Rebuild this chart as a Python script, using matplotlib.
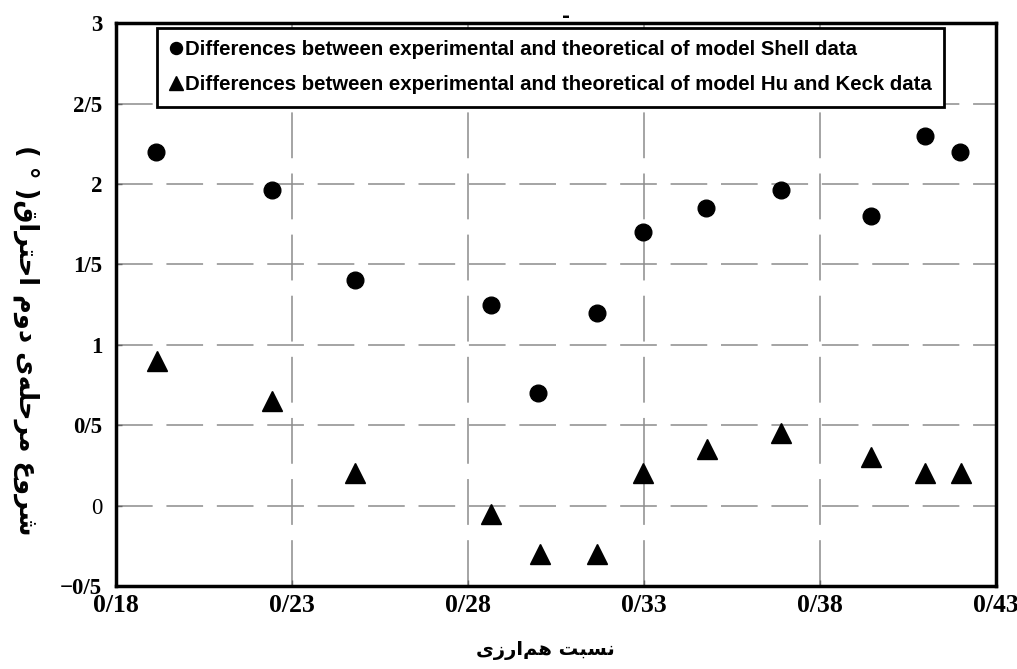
import matplotlib
matplotlib.use("Agg")
import matplotlib.pyplot as plt
from matplotlib import font_manager

# ---- data ----
shell_x = [0.1914, 0.2243, 0.2479, 0.2865, 0.2999, 0.3166, 0.3297, 0.3476, 0.3689, 0.3945, 0.4098, 0.4198]
shell_y = [2.20, 1.96, 1.40, 1.25, 0.70, 1.20, 1.70, 1.85, 1.96, 1.80, 2.30, 2.20]
hk_x = [0.1917, 0.2243, 0.2479, 0.2865, 0.3004, 0.3166, 0.3297, 0.3479, 0.3689, 0.3945, 0.4098, 0.4201]
hk_y = [0.90, 0.65, 0.20, -0.05, -0.30, -0.30, 0.20, 0.35, 0.45, 0.30, 0.20, 0.20]

x_ticks = [0.18, 0.23, 0.28, 0.33, 0.38, 0.43]
x_tick_labels = ["0/18", "0/23", "0/28", "0/33", "0/38", "0/43"]
y_ticks = [-0.5, 0, 0.5, 1, 1.5, 2, 2.5, 3]
y_tick_labels = ["\u22120/5", "0", "0/5", "1", "1/5", "2", "2/5", "3"]

label_shell = "Differences between experimental and theoretical of model Shell data"
label_hk = "Differences between experimental and theoretical of model Hu and Keck data"

# Persian labels, pre-shaped (Arabic presentation forms, visual order)
x_label = "\uFEEF\uFEAF\uFEAD\uFE8D\uFEE2\uFEEB \uFE96\uFE92\uFEB4\uFEE7"   # نسبت هم‌ارزی
y_label = ("( \u00B0 )"
           "\uFED5\uFE8D\uFEAE\uFE98\uFEA3\uFE8D "      # احتراق
           "\uFEE1\uFEED\uFEA9 "                        # دوم
           "\uFEEF\uFEEA\uFEE0\uFEA3\uFEAE\uFEE3 "      # مرحله‌ی
           "\uFEC9\uFEED\uFEAE\uFEB7")                  # شروع

avail = {f.name for f in font_manager.fontManager.ttflist}
narrow = "Liberation Sans Narrow" if "Liberation Sans Narrow" in avail else "Liberation Sans"
serif = "Liberation Serif"

fig = plt.figure(figsize=(10.17, 6.69), dpi=100)
ax = fig.add_axes([0.114, 0.124, 0.865, 0.8415])

ax.set_xlim(0.18, 0.43)
ax.set_ylim(-0.5, 3)

for xv in x_ticks[1:-1]:
    ax.axvline(xv, color="#8c8c8c", lw=1.1, dashes=(30, 10), zorder=0)
for yv in y_ticks[1:-1]:
    ax.axhline(yv, color="#8c8c8c", lw=1.1, dashes=(24, 9), zorder=0)

ax.plot(shell_x, shell_y, linestyle="none", marker="o", ms=12, color="black",
        label=label_shell, zorder=3)
ax.plot(hk_x, hk_y, linestyle="none", marker="^", ms=14, color="black",
        label=label_hk, zorder=3)

ax.set_xticks(x_ticks)
ax.set_xticklabels(x_tick_labels, fontfamily=serif, fontweight="bold", fontsize=18.5)
ax.set_yticks(y_ticks)
ax.set_yticklabels(y_tick_labels, fontfamily=serif, fontweight="bold", fontsize=16.5)
for t in ax.get_yticklabels():
    if t.get_text() == "0":
        t.set_fontweight("normal")
ax.tick_params(axis="both", direction="in", length=4, width=1, color="#666666")
ax.tick_params(axis="y", pad=10)
ax.tick_params(axis="x", pad=6)

for s in ax.spines.values():
    s.set_linewidth(2.5)
    s.set_color("black")

leg = ax.legend(loc="upper left", bbox_to_anchor=(0.0466, 0.992), frameon=True,
                fancybox=False, markerscale=0.72, handlelength=0.6, handletextpad=0.15,
                borderpad=0.62, labelspacing=0.78, borderaxespad=0,
                prop={"family": narrow, "weight": "bold", "size": 14.7})
leg.get_frame().set_edgecolor("black")
leg.get_frame().set_linewidth(2.0)
leg.get_frame().set_alpha(1)

fig.text(0.557, 0.975, "-", ha="center", va="center", fontsize=14, fontweight="bold")

fig.text(0.536, 0.028, x_label, ha="center", va="center", fontsize=14,
         fontweight="bold", family=["DejaVu Sans"])
fig.text(0.026, 0.492, y_label, ha="center", va="center", rotation=270, fontsize=18.5,
         fontweight="bold", family=["DejaVu Sans"])

fig.savefig("out.png", dpi=100)
